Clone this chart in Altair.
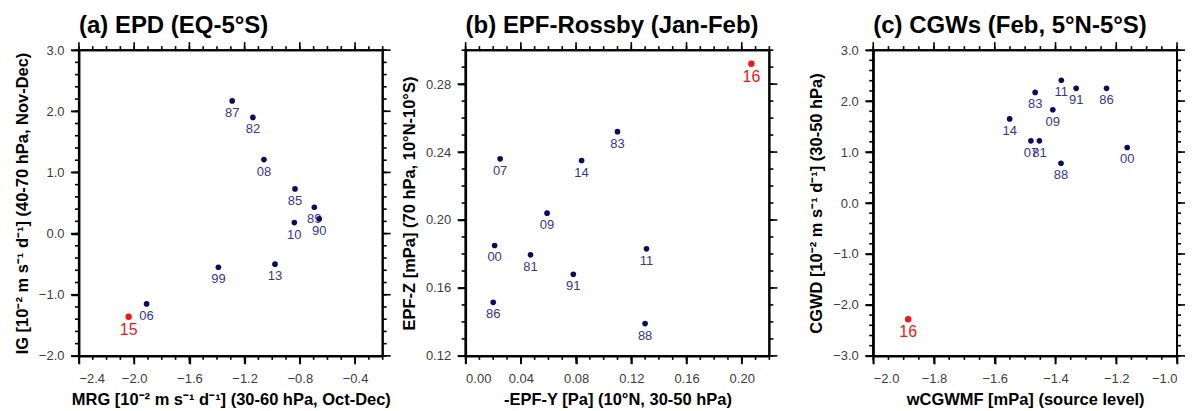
import altair as alt
import pandas as pd

# ---------------- data ----------------
a_years = ["87", "82", "08", "85", "89", "90", "10", "13", "99", "06", "15"]
a_x = [-1.29, -1.14, -1.06, -0.835, -0.695, -0.66, -0.84, -0.98, -1.39, -1.91, -2.04]
a_y = [2.17, 1.90, 1.21, 0.73, 0.43, 0.24, 0.18, -0.50, -0.55, -1.15, -1.36]
a_red = ["15"]

b_years = ["16", "83", "07", "14", "09", "00", "81", "91", "11", "86", "88"]
b_x = [0.207, 0.110, 0.025, 0.084, 0.059, 0.021, 0.047, 0.078, 0.131, 0.020, 0.130]
b_y = [0.292, 0.252, 0.236, 0.235, 0.204, 0.185, 0.1795, 0.168, 0.183, 0.1515, 0.139]
b_red = ["16"]

c_years = ["11", "83", "91", "86", "09", "14", "07", "81", "00", "88", "16"]
c_x = [-1.381, -1.467, -1.332, -1.232, -1.409, -1.551, -1.481, -1.453, -1.164, -1.382, -1.885]
c_y = [2.41, 2.17, 2.25, 2.25, 1.83, 1.65, 1.22, 1.22, 1.09, 0.78, -2.28]
c_red = ["16"]

a_xmajor = [-2.4, -2.0, -1.6, -1.2, -0.8, -0.4]
a_ymajor = [-2.0, -1.0, 0.0, 1.0, 2.0, 3.0]
b_xmajor = [0.00, 0.04, 0.08, 0.12, 0.16, 0.20]
b_ymajor = [0.12, 0.16, 0.20, 0.24, 0.28]
c_xmajor = [-2.0, -1.8, -1.6, -1.4, -1.2, -1.0]
c_ymajor = [-3.0, -2.0, -1.0, 0.0, 1.0, 2.0, 3.0]

FONT = "Liberation Sans"
NAVY = "#0b0b5c"
LABEL_NAVY = "#36368f"
RED = "#f01818"
W, H = 304, 306


def minor(lo, hi, step):
    n = int(round((hi - lo) / step))
    return [round(lo + i * step, 4) for i in range(n + 1)]


def ax(orient, values, fmt, title, label_pad, title_pad):
    return alt.Axis(orient=orient, values=values, tickSize=8, labels=True,
                    domain=True, grid=False, tickColor="#000000", tickWidth=1.6,
                    domainColor="#000000", domainWidth=2, format=fmt,
                    labelFont=FONT, labelFontSize=13, labelColor="#3c3c3c",
                    labelPadding=label_pad, title=title, titleFont=FONT,
                    titleFontSize=16.5, titleFontWeight="bold",
                    titlePadding=title_pad)


def panel(years, xs, ys, reds, xdom, ydom, xmaj, xstep, ymaj, ystep, xfmt, yfmt,
          xtitle, ytitle, title):
    df_all = pd.DataFrame({"x": xs, "y": ys, "yr": years})
    df_n = df_all[[y not in reds for y in years]]
    df_r = df_all[[y in reds for y in years]]
    xs_ = alt.Scale(domain=xdom, nice=False, zero=False)
    ys_ = alt.Scale(domain=ydom, nice=False, zero=False)

    axes = alt.Chart(df_all).mark_point(opacity=0).encode(
        x=alt.X("x:Q", scale=xs_, axis=ax("bottom", xmaj, xfmt, xtitle, 9, 6)),
        y=alt.Y("y:Q", scale=ys_, axis=ax("left", ymaj, yfmt, ytitle, 7, 8)),
    )
    xe = alt.X("x:Q", scale=xs_)
    ye = alt.Y("y:Q", scale=ys_)

    # tick marks drawn as filled ticks on all four sides (major + minor)
    xmaj_df = pd.DataFrame({"x": xmaj})
    ymaj_df = pd.DataFrame({"y": ymaj})
    xmin_df = pd.DataFrame({"x": minor(xdom[0], xdom[1], xstep)})
    ymin_df = pd.DataFrame({"y": minor(ydom[0], ydom[1], ystep)})

    def xticks(d, size, ypos):
        return alt.Chart(d).mark_tick(orient="vertical", size=size, thickness=1.6,
                                      color="#000000", opacity=1).encode(
            x=xe, y=alt.value(ypos))

    def yticks(d, size, xpos):
        return alt.Chart(d).mark_tick(orient="horizontal", size=size, thickness=1.6,
                                      color="#000000", opacity=1).encode(
            y=ye, x=alt.value(xpos))

    ticks = [
        xticks(xmaj_df, 8, H + 4), xticks(xmaj_df, 8, -4),
        xticks(xmin_df, 4, H + 2), xticks(xmin_df, 4, -2),
        yticks(ymaj_df, 8, -4), yticks(ymaj_df, 8, W + 4),
        yticks(ymin_df, 4, -2), yticks(ymin_df, 4, W + 2),
    ]

    one = pd.DataFrame({"k": [0]})

    def edge(x1, x2, y1, y2):
        return alt.Chart(one).mark_rect(color="#000000", opacity=1).encode(
            x=alt.value(x1), x2=alt.value(x2), y=alt.value(y1), y2=alt.value(y2))

    frame = [edge(-1, W + 1, -1, 1), edge(-1, W + 1, H - 1, H + 1),
             edge(-1, 1, -1, H + 1), edge(W - 1, W + 1, -1, H + 1)]

    lab_n = alt.Chart(df_n).mark_text(
        dy=12, font=FONT, fontSize=13, color=LABEL_NAVY
    ).encode(x=xe, y=ye, text="yr:N")
    lab_r = alt.Chart(df_r).mark_text(
        dy=13, font=FONT, fontSize=16, color=RED
    ).encode(x=xe, y=ye, text="yr:N")
    pts_n = alt.Chart(df_n).mark_circle(size=32, color=NAVY, opacity=1).encode(x=xe, y=ye)
    pts_r = alt.Chart(df_r).mark_circle(size=42, color=RED, opacity=1).encode(x=xe, y=ye)

    return alt.layer(axes, *ticks, *frame, lab_n, lab_r, pts_n, pts_r).properties(
        width=W, height=H, title=title
    )


pa = panel(a_years, a_x, a_y, a_red, [-2.4, -0.2], [-2.0, 3.0], a_xmajor, 0.1,
           a_ymajor, 0.2, ".1f", ".1f",
           "MRG [10⁻² m s⁻¹ d⁻¹] (30-60 hPa, Oct-Dec)",
           "IG [10⁻² m s⁻¹ d⁻¹] (40-70 hPa, Nov-Dec)",
           "(a) EPD (EQ-5°S)")
pb = panel(b_years, b_x, b_y, b_red, [0.0, 0.22], [0.12, 0.30], b_xmajor, 0.01,
           b_ymajor, 0.01, ".2f", ".2f",
           "-EPF-Y [Pa] (10°N, 30-50 hPa)",
           "EPF-Z [mPa] (70 hPa, 10°N-10°S)",
           "(b) EPF-Rossby (Jan-Feb)")
pc = panel(c_years, c_x, c_y, c_red, [-2.0, -1.0], [-3.0, 3.0], c_xmajor, 0.05,
           c_ymajor, 0.2, ".1f", ".1f",
           "wCGWMF [mPa] (source level)",
           "CGWD [10⁻² m s⁻¹ d⁻¹] (30-50 hPa)",
           "(c) CGWs (Feb, 5°N-5°S)")

chart = alt.hconcat(alt.hconcat(pa, pb, spacing=8), pc, spacing=29).configure_view(
    stroke="black", strokeWidth=2
).configure_title(
    anchor="start", frame="group", font=FONT, fontSize=24,
    fontWeight="bold", color="black", offset=0
)

chart.save("out.html", embed_options={"renderer": "svg", "actions": False})
